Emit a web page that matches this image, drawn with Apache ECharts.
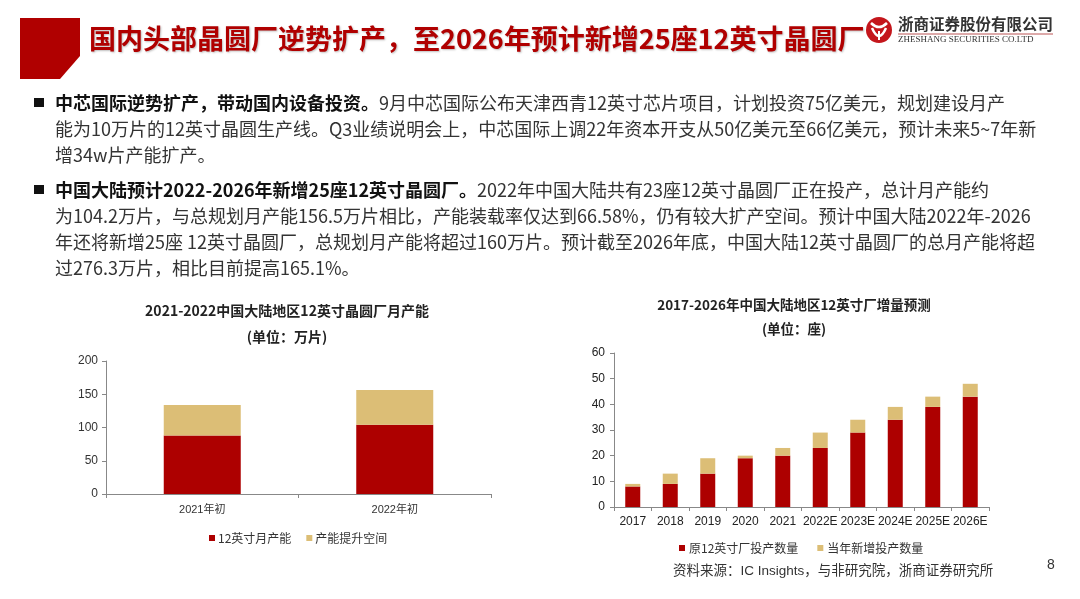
<!DOCTYPE html>
<html><head><meta charset="utf-8">
<script src="https://cdn.jsdelivr.net/npm/echarts@6/dist/echarts.min.js"></script>
<style>html,body{margin:0;padding:0;background:#fff}#c{width:1080px;height:599px}</style>
</head><body><div id="c"></div>
<script>
// ---- data ----
const capCategories = ['2021年初', '2022年初'];
const capInstalled = [88, 104.2];
const capRoom = [46, 52.3];
const fabYears = ['2017', '2018', '2019', '2020', '2021', '2022E', '2023E', '2024E', '2025E', '2026E'];
const fabExisting = [8, 9, 13, 19, 20, 23, 29, 34, 39, 43];
const fabNew = [1, 4, 6, 1, 3, 6, 5, 5, 4, 5];
const seriesNames = ['12英寸月产能', '产能提升空间', '原12英寸厂投产数量', '当年新增投产数量'];

const headline = '国内头部晶圆厂逆势扩产，至2026年预计新增25座12英寸晶圆厂';
const para1 = [
  ['中芯国际逆势扩产，带动国内设备投资。', '9月中芯国际公布天津西青12英寸芯片项目，计划投资75亿美元，规划建设月产'],
  ['', '能为10万片的12英寸晶圆生产线。Q3业绩说明会上，中芯国际上调22年资本开支从50亿美元至66亿美元，预计未来5~7年新'],
  ['', '增34w片产能扩产。']
];
const para2 = [
  ['中国大陆预计2022-2026年新增25座12英寸晶圆厂。', '2022年中国大陆共有23座12英寸晶圆厂正在投产，总计月产能约'],
  ['', '为104.2万片，与总规划月产能156.5万片相比，产能装载率仅达到66.58%，仍有较大扩产空间。预计中国大陆2022年-2026'],
  ['', '年还将新增25座 12英寸晶圆厂，总规划月产能将超过160万片。预计截至2026年底，中国大陆12英寸晶圆厂的总月产能将超'],
  ['', '过276.3万片，相比目前提高165.1%。']
];

const RED = '#AD0000', GOLD = '#DCBE76';
const CJK = "'Noto Sans CJK SC',sans-serif";
const NUM = "'Liberation Sans','Noto Sans CJK SC',sans-serif";

function paraGraphics(lines, y0) {
  const out = [];
  out.push({ type: 'rect', shape: { x: 34, y: y0 - 5, width: 10, height: 9 }, style: { fill: '#111' } });
  lines.forEach((ln, i) => {
    let t = '';
    if (ln[0]) t += '{b|' + ln[0] + '}';
    t += '{n|' + ln[1] + '}';
    out.push({
      type: 'text', x: 55, y: y0 + i * 26,
      style: {
        text: t, verticalAlign: 'middle', textAlign: 'left',
        rich: {
          b: { fontSize: 18, fontWeight: 'bold', fill: '#111', fontFamily: CJK },
          n: { fontSize: 18, fill: '#333', fontFamily: CJK }
        }
      }
    });
  });
  return out;
}

const graphics = [
  { type: 'polygon', shape: { points: [[20, 18], [80, 18], [80, 56], [60, 79], [20, 79]] }, style: { fill: '#B00000' } },
  { type: 'text', x: 89, y: 39, style: { text: headline, fontSize: 27, fontWeight: 'bold', fill: '#B00000', fontFamily: CJK,
      verticalAlign: 'middle', textShadowColor: 'rgba(0,0,0,0.25)', textShadowBlur: 2, textShadowOffsetX: 1, textShadowOffsetY: 1 } },
  // logo
  { type: 'circle', shape: { cx: 879, cy: 30, r: 13 }, style: { fill: '#C4161C' } },
  { type: 'bezierCurve', shape: { x1: 871, y1: 23, x2: 887, y2: 23, cpx1: 879, cpy1: 31 }, style: { stroke: '#fff', lineWidth: 2.5, fill: null } },
  { type: 'bezierCurve', shape: { x1: 872, y1: 28, x2: 886, y2: 28, cpx1: 879, cpy1: 44 }, style: { stroke: '#fff', lineWidth: 2.5, fill: null } },
  { type: 'line', shape: { x1: 879, y1: 31, x2: 879, y2: 40 }, style: { stroke: '#fff', lineWidth: 2 } },
  { type: 'text', x: 898, y: 24, style: { text: '浙商证券股份有限公司', fontSize: 15.5, fontWeight: 'bold', fill: '#333', fontFamily: CJK, verticalAlign: 'middle' } },
  { type: 'line', shape: { x1: 898, y1: 34, x2: 1053, y2: 34 }, style: { stroke: '#B55', lineWidth: 1 } },
  { type: 'text', x: 898, y: 40, style: { text: 'ZHESHANG SECURITIES CO.LTD', fontSize: 9, fill: '#333', fontFamily: "'Liberation Serif',serif", verticalAlign: 'middle' } },
  // chart titles
  { type: 'text', x: 287, y: 311, style: { text: '2021-2022中国大陆地区12英寸晶圆厂月产能', fontSize: 14, fontWeight: 'bold', fill: '#222', fontFamily: CJK, textAlign: 'center', verticalAlign: 'middle' } },
  { type: 'text', x: 287, y: 337, style: { text: '(单位：万片)', fontSize: 14, fontWeight: 'bold', fill: '#222', fontFamily: CJK, textAlign: 'center', verticalAlign: 'middle' } },
  { type: 'text', x: 794, y: 305, style: { text: '2017-2026年中国大陆地区12英寸厂增量预测', fontSize: 13.5, fontWeight: 'bold', fill: '#222', fontFamily: CJK, textAlign: 'center', verticalAlign: 'middle' } },
  { type: 'text', x: 794, y: 329, style: { text: '(单位：座)', fontSize: 13.5, fontWeight: 'bold', fill: '#222', fontFamily: CJK, textAlign: 'center', verticalAlign: 'middle' } },
  { type: 'text', x: 673, y: 571, style: { text: '资料来源：IC Insights，与非研究院，浙商证券研究所', fontSize: 13.5, fill: '#333', fontFamily: NUM, verticalAlign: 'middle' } },
  { type: 'text', x: 1051, y: 565, style: { text: '8', fontSize: 14, fill: '#333', fontFamily: NUM, textAlign: 'center', verticalAlign: 'middle' } }
].concat(paraGraphics(para1, 103), paraGraphics(para2, 190));

const axisLineStyle = { show: true, lineStyle: { color: '#888', width: 1 } };
const axisTickStyle = { show: true, length: 4, lineStyle: { color: '#888' } };

const option = {
  animation: false,
  backgroundColor: '#fff',
  graphic: graphics,
  grid: [
    { left: 106, top: 361, width: 385, height: 133 },
    { left: 614, top: 353, width: 375, height: 154 }
  ],
  xAxis: [
    { type: 'category', gridIndex: 0, data: capCategories, axisLine: axisLineStyle, axisTick: axisTickStyle,
      axisLabel: { fontSize: 11, color: '#333', margin: 10, fontFamily: NUM } },
    { type: 'category', gridIndex: 1, data: fabYears, axisLine: axisLineStyle, axisTick: axisTickStyle,
      axisLabel: { interval: 0, fontSize: 12, color: '#222', margin: 9, fontFamily: NUM } }
  ],
  yAxis: [
    { type: 'value', gridIndex: 0, min: 0, max: 200, interval: 50, splitLine: { show: false },
      axisLine: axisLineStyle, axisTick: axisTickStyle, axisLabel: { fontSize: 12, color: '#333', margin: 8, fontFamily: NUM } },
    { type: 'value', gridIndex: 1, min: 0, max: 60, interval: 10, splitLine: { show: false },
      axisLine: axisLineStyle, axisTick: axisTickStyle, axisLabel: { fontSize: 12, color: '#222', margin: 9, fontFamily: NUM } }
  ],
  legend: [
    { data: [seriesNames[0], seriesNames[1]], left: 204, top: 527, icon: 'rect', itemWidth: 6, itemHeight: 6, itemGap: 15,
      textStyle: { fontSize: 12, color: '#333', fontFamily: CJK, padding: [0, 0, 0, -2] }, selectedMode: false },
    { data: [seriesNames[2], seriesNames[3]], left: 674, top: 537, icon: 'rect', itemWidth: 6, itemHeight: 6, itemGap: 19,
      textStyle: { fontSize: 12, color: '#333', fontFamily: CJK, padding: [0, 0, 0, -1] }, selectedMode: false }
  ],
  series: [
    { name: seriesNames[0], type: 'bar', stack: 'cap', xAxisIndex: 0, yAxisIndex: 0, data: capInstalled, barWidth: '40%', itemStyle: { color: RED } },
    { name: seriesNames[1], type: 'bar', stack: 'cap', xAxisIndex: 0, yAxisIndex: 0, data: capRoom, barWidth: '40%', itemStyle: { color: GOLD } },
    { name: seriesNames[2], type: 'bar', stack: 'fab', xAxisIndex: 1, yAxisIndex: 1, data: fabExisting, barWidth: '40%', itemStyle: { color: RED } },
    { name: seriesNames[3], type: 'bar', stack: 'fab', xAxisIndex: 1, yAxisIndex: 1, data: fabNew, barWidth: '40%', itemStyle: { color: GOLD } }
  ]
};

const chart = echarts.init(document.getElementById('c'), null, { renderer: 'canvas' });
chart.setOption(option);
</script>
</body></html>
